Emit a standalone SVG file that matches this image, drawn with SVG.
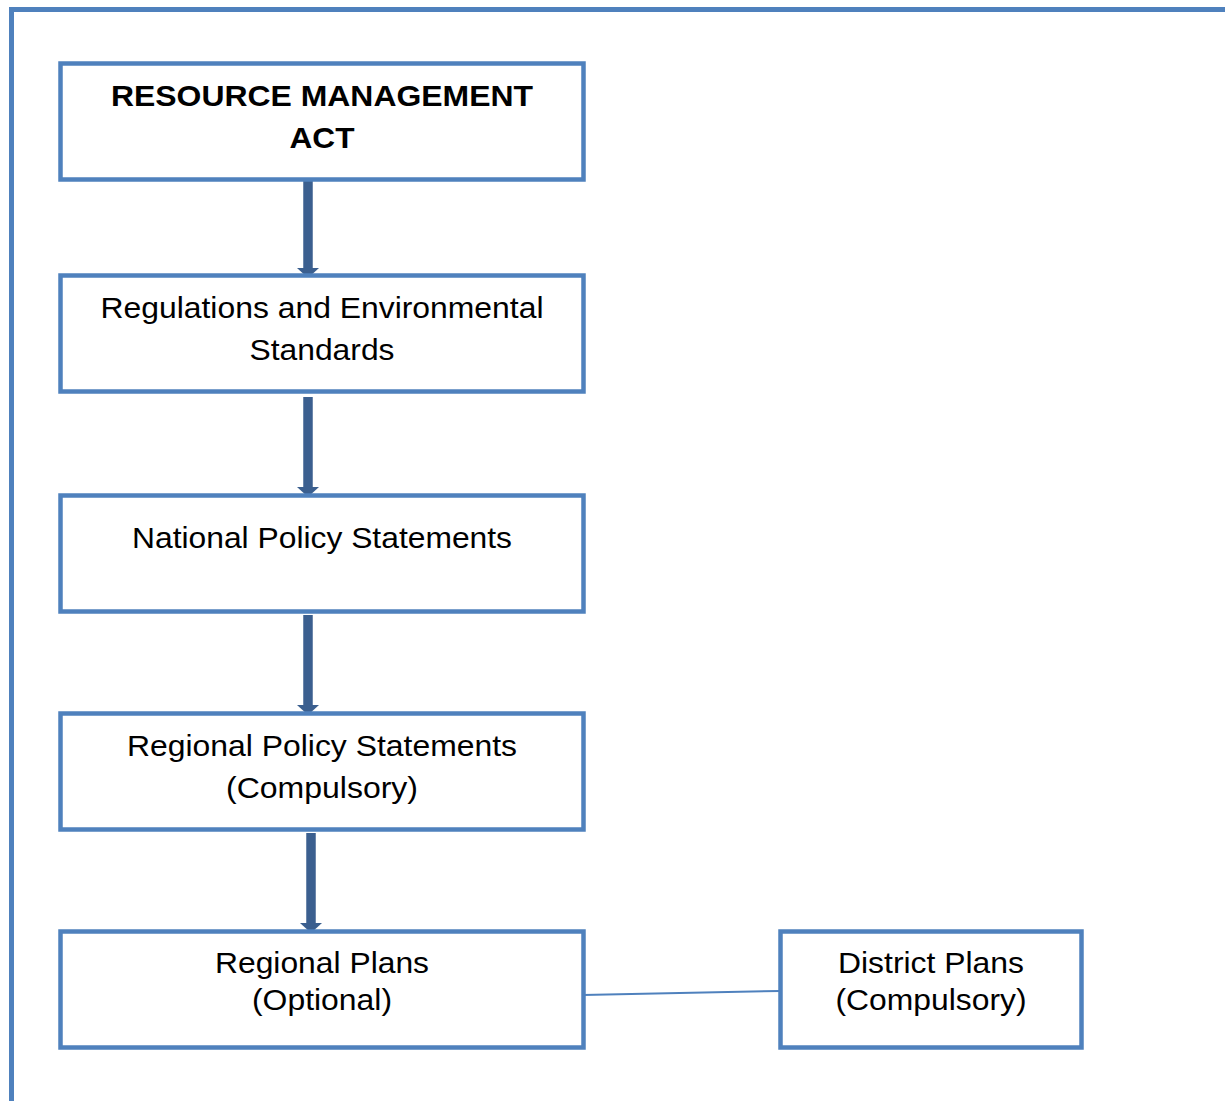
<svg xmlns="http://www.w3.org/2000/svg" width="1225" height="1101" viewBox="0 0 1225 1101">
  <defs>
    <style>
      .frame { fill: none; stroke: #4f81bd; stroke-width: 5; }
      .box { fill: #ffffff; stroke: #4f81bd; stroke-width: 4.5; }
      .lbl { font-family: "Liberation Sans", Arial, sans-serif; font-size: 29px; fill: #000000; text-anchor: middle; }
      .bold { font-weight: bold; font-size: 30px; }
      .shaft { stroke: #3b5f8f; stroke-width: 9.5; fill: none; }
      .head { fill: #3b5f8f; }
      .link { stroke: #4f81bd; stroke-width: 2; fill: none; }
    </style>
  </defs>
  <rect width="1225" height="1101" fill="#ffffff"/>

  <!-- outer frame, running off the right and bottom edges -->
  <path class="frame" d="M11.5 1110 V9.5 H1235"/>

  <!-- connectors -->
  <g id="connectors">
    <line class="shaft" x1="308" y1="177" x2="308" y2="270"/>
    <polygon class="head" points="297,268 319,268 308,278"/>
    <line class="shaft" x1="308" y1="397" x2="308" y2="489"/>
    <polygon class="head" points="297,487 319,487 308,497"/>
    <line class="shaft" x1="308" y1="615" x2="308" y2="707"/>
    <polygon class="head" points="297,705 319,705 308,715"/>
    <line class="shaft" x1="311" y1="833" x2="311" y2="925"/>
    <polygon class="head" points="300,923 322,923 311,933"/>
    <line class="link" x1="583" y1="995" x2="780" y2="991"/>
  </g>

  <g id="node-rma">
    <rect class="box" x="60.5" y="63.5" width="523" height="116"/>
    <text class="lbl bold" x="322" y="106" textLength="422" lengthAdjust="spacingAndGlyphs">RESOURCE MANAGEMENT</text>
    <text class="lbl bold" x="322" y="148" textLength="65" lengthAdjust="spacingAndGlyphs">ACT</text>
  </g>

  <g id="node-regulations">
    <rect class="box" x="60.5" y="275.5" width="523" height="116"/>
    <text class="lbl" x="322" y="317.5" textLength="443" lengthAdjust="spacingAndGlyphs">Regulations and Environmental</text>
    <text class="lbl" x="322" y="359.5" textLength="145" lengthAdjust="spacingAndGlyphs">Standards</text>
  </g>

  <g id="node-nps">
    <rect class="box" x="60.5" y="495.5" width="523" height="116"/>
    <text class="lbl" x="322" y="548" textLength="380" lengthAdjust="spacingAndGlyphs">National Policy Statements</text>
  </g>

  <g id="node-rps">
    <rect class="box" x="60.5" y="713.5" width="523" height="116"/>
    <text class="lbl" x="322" y="755.5" textLength="390" lengthAdjust="spacingAndGlyphs">Regional Policy Statements</text>
    <text class="lbl" x="322" y="797.5" textLength="192" lengthAdjust="spacingAndGlyphs">(Compulsory)</text>
  </g>

  <g id="node-regional-plans">
    <rect class="box" x="60.5" y="931.5" width="523" height="116"/>
    <text class="lbl" x="322" y="973" textLength="214" lengthAdjust="spacingAndGlyphs">Regional Plans</text>
    <text class="lbl" x="322" y="1010" textLength="140" lengthAdjust="spacingAndGlyphs">(Optional)</text>
  </g>

  <g id="node-district-plans">
    <rect class="box" x="780.5" y="931.5" width="301" height="116"/>
    <text class="lbl" x="931" y="973" textLength="186" lengthAdjust="spacingAndGlyphs">District Plans</text>
    <text class="lbl" x="931" y="1010" textLength="191" lengthAdjust="spacingAndGlyphs">(Compulsory)</text>
  </g>
</svg>
